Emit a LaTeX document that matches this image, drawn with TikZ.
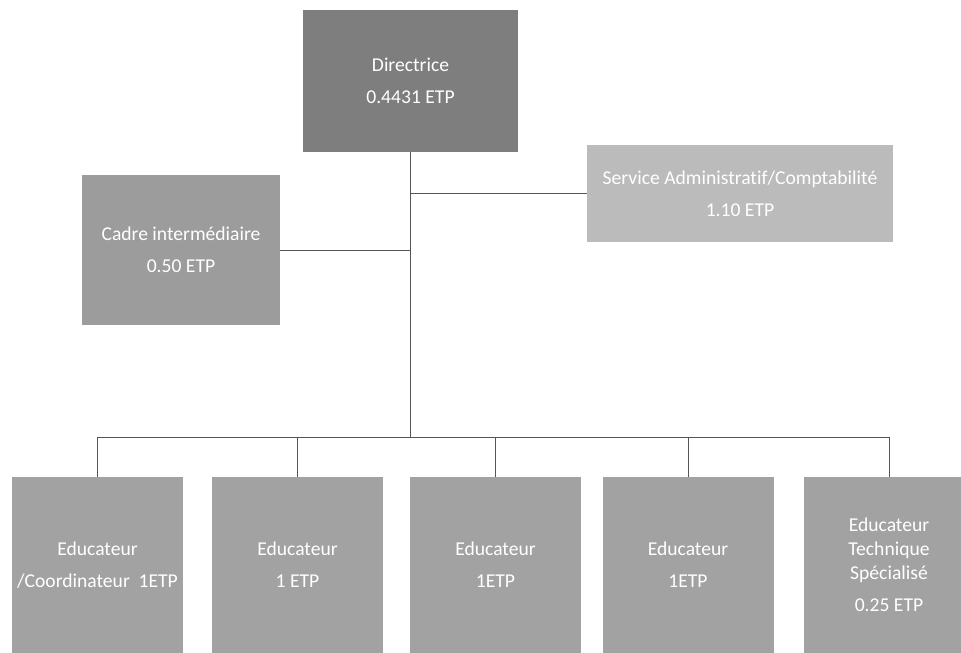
\documentclass[tikz,border=0pt]{standalone}
\usepackage{fontspec}
\setmainfont{Carlito}[Ligatures=NoCommon]
\definecolor{dirgray}{HTML}{7E7E7E}
\definecolor{midgray}{HTML}{9C9C9C}
\definecolor{lightgray}{HTML}{BBBBBB}
\definecolor{edugray}{HTML}{A2A2A2}
\definecolor{linegray}{HTML}{555555}
\begin{document}
\begin{tikzpicture}[
    x=0.75pt,
    y=-0.75pt,
    box/.style={
        fill=#1,
        draw=none,
        text=white,
        align=center,
        inner sep=0pt,
        font=\fontsize{14.7}{24}\selectfont
    },
    link/.style={draw=linegray, line width=0.6pt}
]
    \useasboundingbox (0,0) rectangle (961,653);
    \clip (0,0) rectangle (961,653);

    \node[box=dirgray, minimum width=161.25pt, minimum height=106.5pt] (dir) at (410.5,81) {Directrice\\0.4431 ETP};
    \node[box=lightgray, minimum width=229.5pt, minimum height=72.75pt] (svc) at (740,193.5) {Service Administratif/Comptabilité\\1.10 ETP};
    \node[box=midgray, minimum width=148.5pt, minimum height=112.5pt] (cadre) at (181,250) {Cadre intermédiaire\\0.50 ETP};

    \coordinate (hub) at (410.5,437);

    \foreach \n/\x/\t in {
        e1/97.5/{Educateur\\/Coordinateur\ \ 1ETP},
        e2/297.5/{Educateur\\1 ETP},
        e3/495.5/{Educateur\\1ETP},
        e4/688/{Educateur\\1ETP},
        e5/889/{Educateur\\[-6pt]Technique\\[-6pt]Spécialisé\\0.25 ETP}}
    {
        \node[box=edugray, minimum width=128.25pt, minimum height=132pt] (\n) at (\x,565) {\t};
        \draw[link] (hub) -| (\n.north);
    }

    \draw[link] (dir.south) -- (hub);
    \draw[link] (cadre.east) -- (dir.south |- cadre.east);
    \draw[link] (dir.south |- svc.west) -- (svc.west);
\end{tikzpicture}
\end{document}
